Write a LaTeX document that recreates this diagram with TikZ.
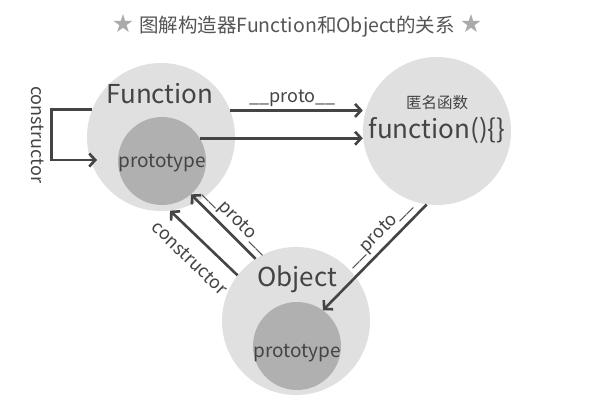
\documentclass[tikz,border=0pt]{standalone}
\usepackage{fontspec}
\setmainfont{Noto Sans CJK SC}
\newfontfamily\dv{DejaVu Sans}
\usetikzlibrary{arrows.meta,calc}
\definecolor{outerc}{HTML}{E0E0E0}
\definecolor{innerc}{HTML}{B0B0B0}
\definecolor{linec}{HTML}{444444}
\definecolor{txtc}{HTML}{444444}
\definecolor{starc}{HTML}{AAAAAA}
\definecolor{titlec}{HTML}{555555}
\begin{document}
\begin{tikzpicture}[x=1pt,y=-1pt,
 big/.style={circle,fill=outerc,minimum size=148pt,inner sep=0pt},
 small/.style={circle,fill=innerc,minimum size=88pt,inner sep=0pt},
 txt/.style={text=txtc,inner sep=0pt,font=\fontsize{26}{30}\selectfont},
 ptxt/.style={text=txtc,inner sep=0pt,font=\fontsize{19}{22}\selectfont},
 lbl/.style={text=txtc,inner sep=0pt,font=\fontsize{18}{21}\selectfont},
 arr/.style={draw=linec,line width=2.6pt,-{Straight Barb[length=6pt,width=13pt]}}
]
\useasboundingbox (0,0) rectangle (599,407);
\fill[white] (0,0) rectangle (599,407);

\node[big] (F) at (161,137) {};
\node[small] (Fp) at (162,161) {};
\node[big] (A) at (437,131) {};
\node[big] (O) at (296,321) {};
\node[small] (Op) at (297,346) {};

\node[txt] (Ft) at (160,94) {Function};
\node[ptxt] (Fpt) at (162,163) {prototype};
\node[text=txtc,inner sep=0pt,font=\fontsize{15.5}{18}\selectfont] (At1) at (437,103) {匿名函数};
\node[txt] (At2) at (437,130) {function()\{\}};
\node[txt] (Ot) at (297,279) {Object};
\node[ptxt] (Opt) at (297,353) {prototype};

\node[inner sep=0pt,font=\fontsize{19.5}{22}\selectfont,text=titlec] (T) at (297,26)
  {\textcolor{starc}{\dv\fontsize{25}{26}\selectfont ★}\hspace{5pt}图解构造器Function和Object的关系\hspace{5pt}\textcolor{starc}{\dv\fontsize{25}{26}\selectfont ★}};

\coordinate (lt) at (97,160);
\draw[arr] (F.158) -- ++(-41,0) coordinate (k) -- (k |- lt)
  node[midway,lbl,xshift=-14pt,rotate=-90] {constructor} -- (lt);
\draw[arr] (F.21) -- (F.21 -| A.west)
  node[midway,lbl,xshift=-4pt,yshift=12pt] {\_\_proto\_\_};
\draw[arr] (Fp.31) -- (Fp.31 -| A.west);
\draw[arr] (O.123) -- (Fp.-49)
  node[midway,lbl,xshift=13.5pt,yshift=5.5pt,rotate=-45] {\_\_proto\_\_};
\draw[arr] (O.142) -- (F.-83)
  node[midway,lbl,xshift=-14pt,yshift=-15pt,rotate=-44] {constructor};
\draw[arr] (A.-98) -- (Op.54)
  node[midway,lbl,xshift=4.5pt,yshift=23.5pt,rotate=45] {\_\_proto\_\_};
\end{tikzpicture}
\end{document}
